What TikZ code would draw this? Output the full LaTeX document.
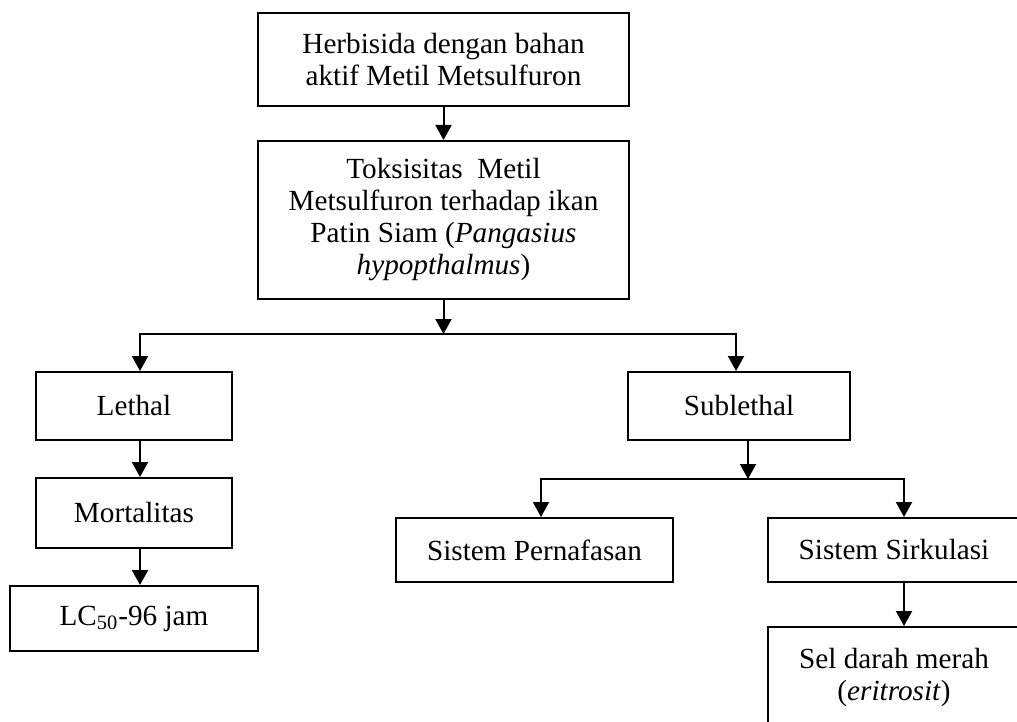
\documentclass[tikz,border=0pt]{standalone}
\usepackage{fontspec}
\setmainfont{Liberation Serif}
\usetikzlibrary{arrows.meta}

\tikzset{
  box/.style={draw, line width=1pt, align=center, inner sep=2pt,
    font=\fontsize{14.6}{16}\selectfont},
  arr/.style={-{Triangle[length=7.5pt,width=8pt]}, line width=1pt}
}

\begin{document}
\begin{tikzpicture}[x=0.5pt,y=-0.5pt]
    \useasboundingbox (0,0) rectangle (1017,722);
    \clip (0,0) rectangle (1017,722);
    % top
    \node[box, minimum width=185.5pt, minimum height=46.5pt] (herb) at (443.5,59.5)
        {Herbisida dengan bahan\\aktif Metil Metsulfuron};
    \node[box, minimum width=185.5pt, minimum height=79pt] (toks) at (443.5,220)
        {Toksisitas \ Metil\\Metsulfuron terhadap ikan\\Patin Siam (\textit{Pangasius}\\\textit{hypopthalmus})};
    % lethal branch
    \node[box, minimum width=98pt, minimum height=34pt] (lethal) at (134,406) {Lethal};
    \node[box, minimum width=98pt, minimum height=35pt] (mort) at (134,513) {Mortalitas};
    \node[box, minimum width=124pt, minimum height=32.5pt] (lc) at (134,618.5) {LC\textsubscript{50}-96 jam};
    % sublethal branch
    \node[box, minimum width=111pt, minimum height=34pt] (sub) at (739,406) {Sublethal};
    \node[box, minimum width=138.5pt, minimum height=32pt] (napas) at (534.5,550) {Sistem Pernafasan};
    \node[box, minimum width=126pt, minimum height=32pt] (sirk) at (894,550) {Sistem Sirkulasi};
    \node[box, minimum width=126pt, minimum height=50pt] (sel) at (894,677)
        {Sel darah merah\\(\textit{eritrosit})};

    \coordinate (split1) at (443.5,334);
    \coordinate (split2) at (748,479);

    \draw[arr] (herb) -- (toks);
    \draw[arr] (toks) -- (split1);
    \draw[arr] (split1) -| ([xshift=3pt]lethal.north);
    \draw[arr] (split1) -| ([xshift=-1.5pt]sub.north);
    \draw[arr] ([xshift=3pt]lethal.south) -- ([xshift=3pt]mort.north);
    \draw[arr] ([xshift=3pt]mort.south) -- ([xshift=3pt]lc.north);
    \draw[arr] ([xshift=4.5pt]sub.south) -- (split2);
    \draw[arr] (split2) -| ([xshift=3.25pt]napas.north);
    \draw[arr] (split2) -| ([xshift=5pt]sirk.north);
    \draw[arr] ([xshift=5pt]sirk.south) -- ([xshift=5pt]sel.north);
\end{tikzpicture}
\end{document}
